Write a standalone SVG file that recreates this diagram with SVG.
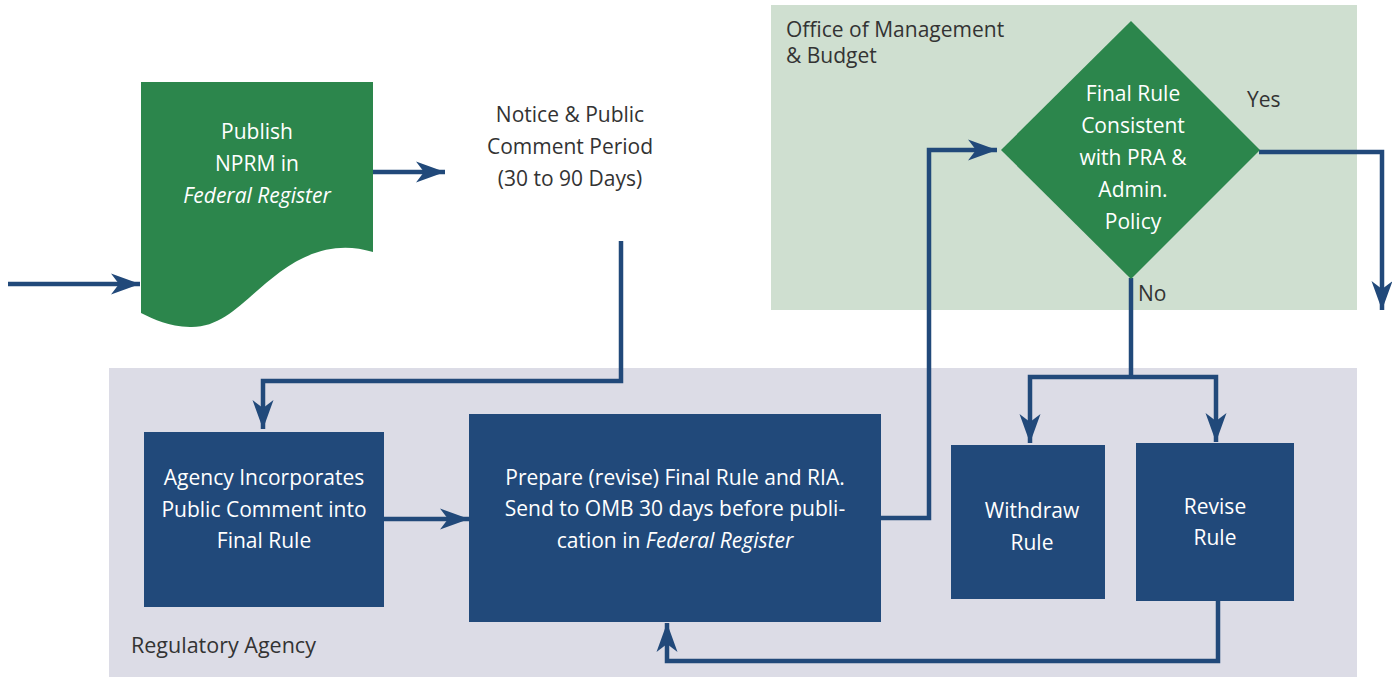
<svg xmlns="http://www.w3.org/2000/svg" width="1392" height="677" viewBox="0 0 1392 677">
<style>
.t{font-family:"Open Sans","Liberation Sans",sans-serif;font-size:21px;text-anchor:middle}
.w{fill:#ffffff}
.d{fill:#333333}
.l{font-family:"Open Sans","Liberation Sans",sans-serif;font-size:21px;fill:#333333}
.c{fill:none;stroke:#21497a;stroke-width:4.5}
.b{fill:#21497a}
.g{fill:#2c864c}
</style>
<defs>
<marker id="ah" markerUnits="userSpaceOnUse" markerWidth="32" markerHeight="24" viewBox="-1 -12 32 24" refX="29" refY="0" orient="auto">
<path d="M0,-10.5 L29,0 L0,10.5 L8,0 z" fill="#21497a"/>
</marker>
</defs>
<rect id="omb-region" x="771" y="5" width="586" height="305" fill="#cfdfd0"/>
<rect id="agency-region" x="109" y="368" width="1248" height="309" fill="#dcdce6"/>
<text class="l" x="786" y="37">Office of Management</text>
<text class="l" x="786" y="63">&amp; Budget</text>
<text class="l" x="131" y="653" style="font-size:21.5px">Regulatory Agency</text>
<g id="connectors">
<path class="c" d="M8,284 H140" marker-end="url(#ah)"/>
<path class="c" d="M373,172 H445" marker-end="url(#ah)"/>
<path class="c" d="M621,241 V381 H263 V429" marker-end="url(#ah)"/>
<path class="c" d="M384,519 H469" marker-end="url(#ah)"/>
<path class="c" d="M881,518 H929 V150 H997" marker-end="url(#ah)"/>
<path class="c" d="M1259,152 H1382 V310" marker-end="url(#ah)"/>
<path class="c" d="M1131,278 V377"/>
<path class="c" d="M1131,377 H1030 V443" marker-end="url(#ah)"/>
<path class="c" d="M1131,377 H1216 V442" marker-end="url(#ah)"/>
<path class="c" d="M1218,601 V661 H667 V623" marker-end="url(#ah)"/>
</g>
<g id="publish">
<path class="g" d="M141,82 H373 V252 C340,242 310,250 280,272 C245,298 225,328 190,327 C168,326 155,320 141,313 Z"/>
<text class="t w" x="257" y="139">Publish</text>
<text class="t w" x="257" y="171">NPRM in</text>
<text class="t w" x="257" y="203" font-style="italic">Federal Register</text>
</g>
<g id="notice">
<text class="t d" x="570" y="122">Notice &amp; Public</text>
<text class="t d" x="570" y="154">Comment Period</text>
<text class="t d" x="570" y="186">(30 to 90 Days)</text>
</g>
<g id="agency">
<rect class="b" x="144" y="432" width="240" height="175"/>
<text class="t w" x="264" y="485">Agency Incorporates</text>
<text class="t w" x="264" y="517">Public Comment into</text>
<text class="t w" x="264" y="548">Final Rule</text>
</g>
<g id="prepare">
<rect class="b" x="469" y="414" width="412" height="208"/>
<text class="t w" x="675" y="485">Prepare (revise) Final Rule and RIA.</text>
<text class="t w" x="675" y="516">Send to OMB 30 days before publi-</text>
<text class="t w" x="675" y="548">cation in <tspan font-style="italic">Federal Register</tspan></text>
</g>
<g id="decision">
<path class="g" d="M1131,21 L1260,150 L1131,279 L1001,150 Z"/>
<text class="t w" x="1133" y="101">Final Rule</text>
<text class="t w" x="1133" y="133">Consistent</text>
<text class="t w" x="1133" y="165">with PRA &amp;</text>
<text class="t w" x="1133" y="197">Admin.</text>
<text class="t w" x="1133" y="229">Policy</text>
<text class="l" x="1247" y="107">Yes</text>
<text class="l" x="1138" y="301">No</text>
</g>
<g id="withdraw">
<rect class="b" x="951" y="445" width="154" height="154"/>
<text class="t w" x="1032" y="518">Withdraw</text>
<text class="t w" x="1032" y="550">Rule</text>
</g>
<g id="revise">
<rect class="b" x="1136" y="443" width="158" height="158"/>
<text class="t w" x="1215" y="514">Revise</text>
<text class="t w" x="1215" y="545">Rule</text>
</g>
</svg>
